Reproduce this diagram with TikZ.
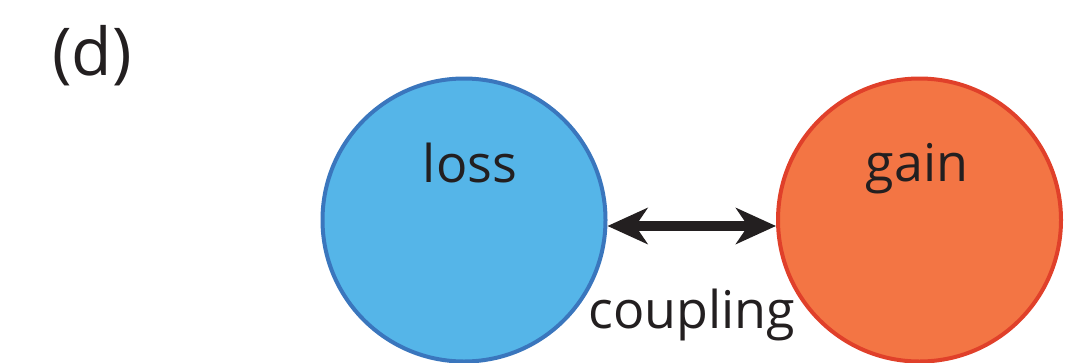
\documentclass[tikz,border=0pt]{standalone}
\usepackage{fontspec}
\setmainfont{Open Sans}
\usetikzlibrary{arrows.meta}
\definecolor{lossfill}{HTML}{55B5E8}
\definecolor{lossline}{HTML}{3A76BD}
\definecolor{gainfill}{HTML}{F37544}
\definecolor{gainline}{HTML}{E0402A}
\definecolor{ink}{HTML}{231F20}
\tikzset{
  bubble/.style={circle, minimum size=283pt, inner sep=0pt, line width=4pt},
  lbl/.style={text=ink, anchor=base, inner sep=0pt, font=\fontsize{52}{60}\selectfont},
  couple/.style={draw=ink, line width=10pt, {Stealth[length=40pt,width=36pt,inset=12pt]}-{Stealth[length=40pt,width=36pt,inset=12pt]}}
}
\begin{document}
\begin{tikzpicture}[x=1pt,y=-1pt]
\useasboundingbox (0,0) rectangle (1081,362);
\node[bubble, fill=lossfill, draw=lossline] (loss) at (464,220) {};
\node[bubble, fill=gainfill, draw=gainline] (gain) at (919.5,220) {};
\node[lbl] (losst) at (470,182) {loss};
\node[lbl] (gaint) at (917,181) {gain};
\node[lbl] (coupt) at (692,328) {coupling};
\node[text=ink, anchor=base west, inner sep=0pt, font=\fontsize{66}{72}\selectfont] (tag) at (52,75) {(d)};
\draw[couple] ([yshift=-6pt]loss.east) -- ([yshift=-6pt]gain.west);
\end{tikzpicture}
\end{document}
